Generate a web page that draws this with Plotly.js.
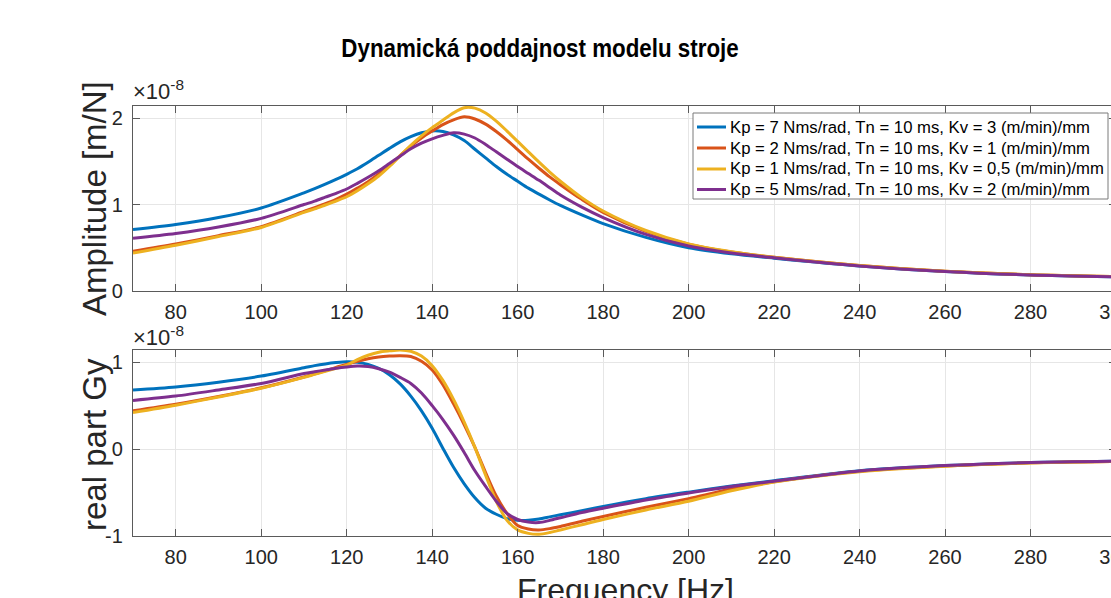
<!DOCTYPE html>
<html><head><meta charset="utf-8">
<script src="https://cdn.plot.ly/plotly-3.0.1.min.js"></script>
<style>html,body{margin:0;padding:0;overflow:hidden;background:#fff}#chart{width:1150px;height:598px}</style>
</head><body><div id="chart"></div><script>
// Frequency [Hz]
const freq = [70,80,90,100,110,112.5,115,117.5,120,122.5,125,127.5,130,132.5,135,137.5,140,142.5,145,147.5,150,152.5,155,157.5,160,162.5,165,167.5,170,175,180,190,200,210,220,240,260,280,300];
const seriesNames = [
  "Kp = 7 Nms/rad, Tn = 10 ms, Kv = 3 (m/min)/mm",
  "Kp = 2 Nms/rad, Tn = 10 ms, Kv = 1 (m/min)/mm",
  "Kp = 1 Nms/rad, Tn = 10 ms, Kv = 0,5 (m/min)/mm",
  "Kp = 5 Nms/rad, Tn = 10 ms, Kv = 2 (m/min)/mm"
];
// Amplitude [m/N], in units of 1e-8
const ampKp7 = [.71,.77,.85,.96, 1.135,1.183,1.235,1.29,1.35,1.415,1.49,1.57,1.65,1.725,1.785,1.83,1.852,1.845,1.805,1.74,1.64,1.54,1.44,1.35,1.27,1.19,1.12,1.053,.99, .88,.78,.62,.50,.43,.38, .29,.225,.185,.165];
const ampKp2 = [.46,.545,.64,.745, .92,.965,1.01,1.06,1.12,1.19,1.265,1.355,1.45,1.565,1.675,1.77,1.85,1.925,1.98,2.015,1.99,1.93,1.845,1.745,1.635,1.525,1.42,1.32,1.23, 1.06,.91,.69,.54,.45,.39, .295,.228,.188,.166];
const ampKp1 = [.44,.53,.63,.735, .91,.95,.995,1.04,1.09,1.16,1.24,1.33,1.44,1.565,1.685,1.795,1.89,1.975,2.06,2.12,2.115,2.06,1.965,1.85,1.73,1.61,1.49,1.375,1.27, 1.08,.925,.70,.545,.455,.39, .295,.228,.188,.166];
const ampKp5 = [.61,.665,.74,.84, 1.0,1.04,1.085,1.13,1.18,1.245,1.315,1.39,1.475,1.56,1.645,1.71,1.76,1.80,1.83,1.815,1.77,1.695,1.61,1.525,1.44,1.36,1.28,1.195,1.11, .97,.85,.655,.52,.44,.385, .29,.225,.185,.165];
// real part Gy, in units of 1e-8
const reKp7 = [.68,.715,.77,.84, .935,.96,.98,.995,1.005,1.0,.975,.93,.855,.75,.61,.44,.24,.01,-.21,-.40,-.56,-.68,-.75,-.80,-.82,-.82,-.805,-.78,-.755, -.71,-.66,-.57,-.495,-.425,-.365, -.25,-.19,-.155,-.14];
const reKp2 = [.44,.515,.605,.705, .83,.865,.90,.94,.975,1.01,1.04,1.06,1.07,1.075,1.065,1.01,.91,.74,.52,.28,.02,-.27,-.54,-.74,-.88,-.92,-.93,-.915,-.89, -.83,-.775,-.67,-.57,-.46,-.375, -.255,-.195,-.158,-.142];
const reKp1 = [.42,.505,.60,.70, .825,.86,.895,.93,.965,1.03,1.08,1.115,1.13,1.14,1.125,1.07,.96,.79,.57,.31,.02,-.30,-.60,-.82,-.93,-.97,-.98,-.96,-.93, -.87,-.81,-.70,-.60,-.48,-.38, -.26,-.197,-.16,-.143];
const reKp5 = [.56,.61,.68,.755, .87,.89,.91,.93,.945,.955,.95,.925,.885,.825,.755,.645,.50,.34,.16,-.04,-.25,-.43,-.60,-.74,-.81,-.84,-.845,-.82,-.79, -.73,-.68,-.585,-.505,-.43,-.37, -.252,-.19,-.155,-.14];
const xTicks = [80,100,120,140,160,180,200,220,240,260,280,300];

const colors = ["#0072BD","#D95319","#EDB120","#7E2F8E"];
const ampSeries = [ampKp7, ampKp2, ampKp1, ampKp5];
const reSeries = [reKp7, reKp2, reKp1, reKp5];

const traces = [];
ampSeries.forEach((ys,i)=>traces.push({x:freq,y:ys,type:'scatter',mode:'lines',name:seriesNames[i],
  line:{color:colors[i],width:3,shape:'spline',smoothing:0.8},xaxis:'x',yaxis:'y'}));
reSeries.forEach((ys,i)=>traces.push({x:freq,y:ys,type:'scatter',mode:'lines',name:seriesNames[i],
  line:{color:colors[i],width:3,shape:'spline',smoothing:0.8},xaxis:'x2',yaxis:'y2'}));

// page geometry (px) -> paper coordinates
const W = 1150, H = 598, ML = 133, MR = 34, MT = 106, MB = 62;
const PW = W - ML - MR, PH = H - MT - MB;
const px2x = p => (p - ML) / PW;
const px2y = p => (H - MB - p) / PH;

const FONT = "Liberation Sans, Arial, Helvetica, sans-serif";
const axCommon = {
  showline:true, linecolor:'#5a5a5a', linewidth:1.2, mirror:'ticks',
  ticks:'inside', ticklen:7, tickcolor:'#5a5a5a', tickwidth:1,
  showgrid:true, gridcolor:'#e6e6e6', gridwidth:1, zeroline:false,
  tickfont:{family:FONT,size:20,color:'#262626'}
};

// custom legend (MATLAB-like compact box)
const legendRows = [127, 148, 169, 189.5];
const shapes = [{type:'rect', xref:'paper', yref:'paper', x0:px2x(693), x1:px2x(1108), y0:px2y(199), y1:px2y(113),
  fillcolor:'#fff', line:{color:'#7a7a7a', width:1}, layer:'above'}];
const annotations = [];
seriesNames.forEach((nm,i)=>{
  shapes.push({type:'line', xref:'paper', yref:'paper', x0:px2x(697), x1:px2x(726), y0:px2y(legendRows[i]), y1:px2y(legendRows[i]),
    line:{color:colors[i], width:3}, layer:'above'});
  annotations.push({text:nm, xref:'paper', yref:'paper', x:px2x(728), y:px2y(legendRows[i]), xanchor:'left', yanchor:'middle',
    showarrow:false, font:{family:FONT,size:16.7,color:'#000'}});
});
annotations.push(
  {text:"×10<sup>-8</sup>", xref:'paper', yref:'paper', x:0, y:1, xanchor:'left', yanchor:'bottom', showarrow:false, xshift:-2,
   font:{family:FONT,size:22,color:'#262626'}},
  {text:"×10<sup>-8</sup>", xref:'paper', yref:'paper', x:0, y:px2y(350), xanchor:'left', yanchor:'bottom', showarrow:false, xshift:-2, yshift:-2,
   font:{family:FONT,size:22,color:'#262626'}},
  {text:"Amplitude [m/N]", xref:'paper', yref:'paper', x:0, y:px2y(199), xanchor:'center', yanchor:'middle', xshift:-39, textangle:-90, showarrow:false,
   font:{family:FONT,size:33,color:'#262626'}},
  {text:"real part Gy", xref:'paper', yref:'paper', x:0, y:px2y(445), xanchor:'center', yanchor:'middle', xshift:-39, textangle:-90, showarrow:false,
   font:{family:FONT,size:33,color:'#262626'}},
  {text:"Frequency [Hz]", xref:'paper', yref:'paper', x:px2x(625), y:0, xanchor:'center', yanchor:'top', yshift:-34, showarrow:false,
   font:{family:FONT,size:32,color:'#262626'}}
);

const layout = {
  width:W, height:H,
  margin:{l:ML,r:MR,t:MT,b:MB},
  paper_bgcolor:'#fff', plot_bgcolor:'#fff',
  showlegend:false,
  title:{text:"Dynamická poddajnost modelu stroje", font:{family:FONT,size:26,color:'#000',weight:'bold'},
    x:540/W, xref:'container', xanchor:'center', y:1-47.5/H, yref:'container', yanchor:'middle'},
  xaxis:Object.assign({}, axCommon, {range:[70,300], tickvals:xTicks, anchor:'y', ticklabelstandoff:3}),
  yaxis:Object.assign({}, axCommon, {domain:[px2y(291),1], range:[0,2.14], tickvals:[0,1,2], ticktext:['0','1','2'], anchor:'x', ticklabelstandoff:5}),
  xaxis2:Object.assign({}, axCommon, {range:[70,300], tickvals:xTicks, anchor:'y2', ticklabelstandoff:3}),
  yaxis2:Object.assign({}, axCommon, {domain:[0,px2y(350)], range:[-1,1.14], tickvals:[-1,0,1], ticktext:['-1','0','1'], anchor:'x2', ticklabelstandoff:5}),
  shapes:shapes,
  annotations:annotations
};
Plotly.newPlot('chart', traces, layout, {displayModeBar:false, staticPlot:true}).then(()=>{
  // condense the bold title horizontally, like the reference's narrow Helvetica
  const t = document.querySelector('.gtitle');
  if (t) {
    const bb = t.getBBox();
    const cx = bb.x + bb.width/2;
    const prev = t.getAttribute('transform') || '';
    t.setAttribute('transform', prev + ' translate(' + cx + ',0) scale(0.86,1) translate(' + (-cx) + ',0)');
  }
});
</script></body></html>
